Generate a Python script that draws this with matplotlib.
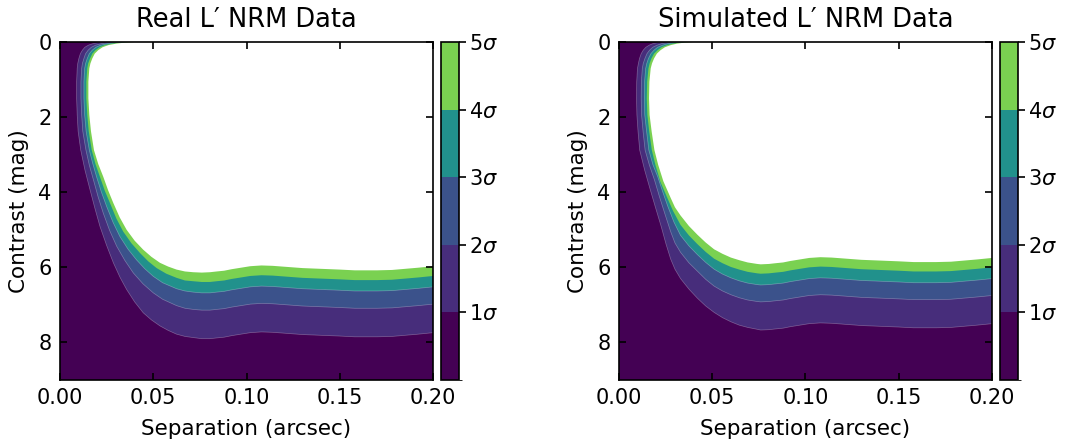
import numpy as np
import matplotlib
matplotlib.use('Agg')
import matplotlib.pyplot as plt
from matplotlib.colors import ListedColormap, BoundaryNorm
from matplotlib.cm import ScalarMappable

# contour boundaries: upper part (sep, mag) pairs,
# lower part is magnitude on a shared grid of separations
upper_mag = [0.0, 0.02, 0.045, 0.084, 0.14, 0.217, 0.31, 0.438, 0.57, 0.703, 1.057, 1.499, 1.94, 2.38]

real_upper_sep = {
    1: [0.0234, 0.0199, 0.0176, 0.0152, 0.0133, 0.0120, 0.0109, 0.0101, 0.0095, 0.0092, 0.0089, 0.0089, 0.0092, 0.0097],
    2: [0.0295, 0.0251, 0.0221, 0.0191, 0.0168, 0.0151, 0.0137, 0.0128, 0.0120, 0.0116, 0.0112, 0.0112, 0.0116, 0.0122],
    3: [0.0337, 0.0287, 0.0253, 0.0218, 0.0192, 0.0173, 0.0157, 0.0146, 0.0137, 0.0132, 0.0128, 0.0128, 0.0132, 0.0140],
    4: [0.0371, 0.0316, 0.0278, 0.0240, 0.0212, 0.0190, 0.0173, 0.0161, 0.0151, 0.0146, 0.0141, 0.0141, 0.0146, 0.0154],
    5: [0.0400, 0.0340, 0.0300, 0.0259, 0.0228, 0.0205, 0.0186, 0.0173, 0.0163, 0.0157, 0.0152, 0.0152, 0.0157, 0.0166],
}
sim_upper_sep = {
    1: [0.0234, 0.0202, 0.0181, 0.0162, 0.0144, 0.0130, 0.0119, 0.0110, 0.0104, 0.0099, 0.0095, 0.0094, 0.0096, 0.0102],
    2: [0.0295, 0.0254, 0.0228, 0.0204, 0.0181, 0.0164, 0.0150, 0.0139, 0.0130, 0.0125, 0.0120, 0.0119, 0.0121, 0.0129],
    3: [0.0337, 0.0291, 0.0261, 0.0234, 0.0207, 0.0188, 0.0171, 0.0158, 0.0149, 0.0143, 0.0137, 0.0136, 0.0138, 0.0148],
    4: [0.0371, 0.0320, 0.0288, 0.0257, 0.0228, 0.0207, 0.0188, 0.0174, 0.0164, 0.0158, 0.0151, 0.0149, 0.0152, 0.0162],
    5: [0.0400, 0.0345, 0.0310, 0.0277, 0.0246, 0.0223, 0.0203, 0.0188, 0.0177, 0.0170, 0.0163, 0.0161, 0.0164, 0.0175],
}

# bend region (sep, mag)
real_mid = {
    1: [(0.0111, 2.88), (0.0134, 3.42), (0.0161, 3.94), (0.0187, 4.43), (0.0214, 4.91), (0.0250, 5.42),
        (0.0286, 5.88), (0.0322, 6.27), (0.0357, 6.59), (0.040, 6.92), (0.0446, 7.21), (0.049, 7.40),
        (0.0536, 7.56), (0.058, 7.68)],
    2: [(0.0139, 2.88), (0.0157, 3.28), (0.0179, 3.67), (0.0204, 4.12), (0.0232, 4.56), (0.0266, 5.02),
        (0.0304, 5.44), (0.0348, 5.82), (0.0393, 6.15), (0.0445, 6.44), (0.05, 6.68), (0.055, 6.85)],
    3: [(0.0157, 2.88), (0.0175, 3.23), (0.0196, 3.59), (0.0222, 4.0), (0.025, 4.38), (0.0284, 4.80),
        (0.0321, 5.18), (0.0365, 5.52), (0.041, 5.8), (0.0455, 6.04), (0.05, 6.24), (0.055, 6.41)],
    4: [(0.0170, 2.88), (0.0190, 3.25), (0.0214, 3.59), (0.0240, 3.96), (0.0268, 4.29), (0.0302, 4.70),
        (0.0339, 5.05), (0.0383, 5.36), (0.0429, 5.62), (0.0473, 5.84), (0.0518, 6.02), (0.057, 6.17)],
    5: [(0.0182, 2.88), (0.0205, 3.25), (0.0232, 3.59), (0.0258, 3.95), (0.0286, 4.29), (0.032, 4.67),
        (0.0357, 5.0), (0.040, 5.29), (0.0446, 5.53), (0.049, 5.72), (0.0536, 5.88), (0.058, 5.98)],
}
sim_mid = {
    1: [(0.0111, 2.88), (0.0138, 3.42), (0.0168, 3.94), (0.0197, 4.43), (0.0226, 4.91), (0.0252, 5.38),
        (0.0277, 5.78), (0.030, 6.05), (0.033, 6.30), (0.0375, 6.58), (0.042, 6.82), (0.0465, 7.03),
        (0.051, 7.20), (0.0555, 7.34), (0.060, 7.45), (0.0645, 7.54), (0.069, 7.60), (0.0741, 7.65)],
    2: [(0.0140, 2.88), (0.0163, 3.28), (0.0190, 3.67), (0.0217, 4.12), (0.0245, 4.56), (0.0277, 5.05),
        (0.030, 5.35), (0.033, 5.60), (0.0375, 5.88), (0.042, 6.10), (0.0465, 6.32), (0.051, 6.50),
        (0.0555, 6.63), (0.060, 6.73), (0.0645, 6.81), (0.069, 6.87), (0.0741, 6.91)],
    3: [(0.0160, 2.88), (0.0182, 3.27), (0.0208, 3.59), (0.0235, 4.0), (0.0262, 4.38), (0.0295, 4.80),
        (0.033, 5.15), (0.0375, 5.43), (0.042, 5.66), (0.0465, 5.87), (0.051, 6.05), (0.0555, 6.18),
        (0.060, 6.28), (0.0645, 6.36), (0.069, 6.42), (0.0741, 6.46)],
    4: [(0.0176, 2.88), (0.0195, 3.27), (0.0221, 3.71), (0.0259, 4.15), (0.0290, 4.50), (0.033, 4.87),
        (0.0375, 5.15), (0.042, 5.38), (0.0465, 5.59), (0.051, 5.77), (0.0555, 5.89), (0.060, 5.99),
        (0.0645, 6.06), (0.069, 6.12), (0.0741, 6.16)],
    5: [(0.0190, 2.88), (0.021, 3.27), (0.0238, 3.71), (0.0277, 4.15), (0.030, 4.40), (0.033, 4.62),
        (0.0375, 4.90), (0.042, 5.13), (0.0465, 5.34), (0.051, 5.52), (0.0555, 5.64), (0.060, 5.74),
        (0.0645, 5.81), (0.069, 5.87), (0.0741, 5.91)],
}

real_lower_sep = [0.0625, 0.067, 0.0714, 0.076, 0.0804, 0.084, 0.088, 0.092, 0.097, 0.102, 0.108, 0.114,
                  0.122, 0.13, 0.14, 0.15, 0.158, 0.165, 0.17, 0.178, 0.185, 0.192, 0.2]
real_lower_mag = {
    1: [7.78, 7.84, 7.87, 7.90, 7.90, 7.88, 7.86, 7.82, 7.78, 7.74, 7.72, 7.73, 7.76, 7.79, 7.81, 7.83, 7.85, 7.85, 7.85, 7.84, 7.81, 7.78, 7.74],
    2: [7.02, 7.09, 7.12, 7.14, 7.14, 7.12, 7.10, 7.06, 7.02, 6.98, 6.96, 6.97, 7.00, 7.03, 7.05, 7.07, 7.09, 7.09, 7.09, 7.08, 7.05, 7.02, 6.98],
    3: [6.57, 6.63, 6.66, 6.68, 6.68, 6.66, 6.64, 6.60, 6.56, 6.52, 6.50, 6.51, 6.54, 6.57, 6.59, 6.61, 6.63, 6.63, 6.63, 6.62, 6.59, 6.56, 6.52],
    4: [6.28, 6.35, 6.37, 6.39, 6.39, 6.37, 6.35, 6.31, 6.27, 6.23, 6.21, 6.22, 6.25, 6.28, 6.30, 6.32, 6.34, 6.34, 6.34, 6.33, 6.30, 6.27, 6.23],
    5: [6.06, 6.11, 6.13, 6.14, 6.13, 6.11, 6.09, 6.05, 6.01, 5.97, 5.95, 5.96, 5.99, 6.02, 6.04, 6.06, 6.08, 6.08, 6.08, 6.07, 6.04, 6.01, 5.97],
}
sim_lower_sep = [0.076, 0.0804, 0.084, 0.088, 0.092, 0.097, 0.102, 0.108, 0.114, 0.122, 0.13, 0.14,
                 0.15, 0.158, 0.165, 0.17, 0.178, 0.185, 0.192, 0.2]
sim_lower_mag = {
    1: [7.67, 7.66, 7.64, 7.62, 7.58, 7.54, 7.50, 7.48, 7.49, 7.52, 7.55, 7.57, 7.59, 7.61, 7.61, 7.61, 7.60, 7.57, 7.54, 7.50],
    2: [6.92, 6.91, 6.89, 6.87, 6.83, 6.79, 6.75, 6.73, 6.74, 6.77, 6.80, 6.82, 6.84, 6.86, 6.86, 6.86, 6.85, 6.82, 6.79, 6.75],
    3: [6.47, 6.46, 6.44, 6.42, 6.38, 6.34, 6.30, 6.28, 6.29, 6.32, 6.35, 6.37, 6.39, 6.41, 6.41, 6.41, 6.40, 6.37, 6.34, 6.30],
    4: [6.17, 6.16, 6.14, 6.12, 6.08, 6.04, 6.00, 5.98, 5.99, 6.02, 6.05, 6.07, 6.09, 6.11, 6.11, 6.11, 6.10, 6.07, 6.04, 6.00],
    5: [5.92, 5.91, 5.89, 5.87, 5.83, 5.79, 5.75, 5.73, 5.74, 5.77, 5.80, 5.82, 5.84, 5.86, 5.86, 5.86, 5.85, 5.82, 5.79, 5.75],
}

levels = [0, 1, 2, 3, 4, 5]
sigma_labels = [r'$1\sigma$', r'$2\sigma$', r'$3\sigma$', r'$4\sigma$', r'$5\sigma$']
band_colors = ['#440154', '#472d7b', '#3b528b', '#21918c', '#7ad151']
titles = ['Real L\u2032 NRM Data', 'Simulated L\u2032 NRM Data']


def boundary(k, upper_sep, mid, lower_sep, lower_mag):
    s = list(upper_sep[k]) + [p[0] for p in mid[k]] + list(lower_sep)
    m = list(upper_mag) + [p[1] for p in mid[k]] + list(lower_mag[k])
    return s, m


def draw_panel(fig, ax, cax, upper_sep, mid, lower_sep, lower_mag, title):
    ax.set_facecolor(band_colors[0])
    fills = band_colors[1:] + ['white']
    curves = [boundary(k, upper_sep, mid, lower_sep, lower_mag) for k in range(1, 6)]
    for (s, m), col in zip(curves, fills):
        ax.fill(s + [0.2], m + [0.0], color=col, lw=0)
    for s, m in curves[:3]:
        ax.plot(s, m, color='white', alpha=0.3, lw=0.5)

    ax.set_xlim(0, 0.2)
    ax.set_ylim(9, 0)
    ax.set_xticks([0, 0.05, 0.1, 0.15, 0.2])
    ax.set_yticks([0, 2, 4, 6, 8])
    ax.tick_params(direction='in', top=True, right=True, length=5, width=1.2,
                   labelsize=15, pad=6)
    for sp in ax.spines.values():
        sp.set_linewidth(1.2)
    ax.set_xlabel('Separation (arcsec)', fontsize=15.5, labelpad=8)
    ax.set_ylabel('Contrast (mag)', fontsize=15.5, labelpad=7)
    ax.set_title(title, fontsize=18.5, pad=11)

    sm = ScalarMappable(norm=BoundaryNorm(levels, len(band_colors)),
                        cmap=ListedColormap(band_colors))
    cb = fig.colorbar(sm, cax=cax, ticks=[1, 2, 3, 4, 5])
    cb.ax.set_yticklabels(sigma_labels)
    cb.ax.tick_params(direction='out', length=5, width=1.2, labelsize=15, pad=2)
    cb.outline.set_linewidth(1.2)


fig = plt.figure(figsize=(10.7, 4.43), dpi=100)
ax1 = fig.add_axes([0.0561, 0.1422, 0.3486, 0.763])
cax1 = fig.add_axes([0.4121, 0.1422, 0.0168, 0.763])
ax2 = fig.add_axes([0.5785, 0.1422, 0.3486, 0.763])
cax2 = fig.add_axes([0.9346, 0.1422, 0.0168, 0.763])

draw_panel(fig, ax1, cax1, real_upper_sep, real_mid, real_lower_sep, real_lower_mag, titles[0])
draw_panel(fig, ax2, cax2, sim_upper_sep, sim_mid, sim_lower_sep, sim_lower_mag, titles[1])

fig.savefig('out.png', dpi=100)
